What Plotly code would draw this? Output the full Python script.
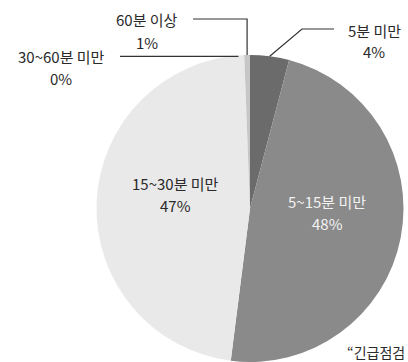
import math
import plotly.graph_objects as go

# Data
labels = ["5분 미만", "5~15분 미만", "15~30분 미만", "30~60분 미만", "60분 이상"]
values = [4.1, 47.9, 47.4, 0.0, 0.6]
pct_text = ["4%", "48%", "47%", "0%", "1%"]
colors = ["#6b6b6b", "#8a8a8a", "#e9e9e9", "#d0d0d0", "#c6c6c6"]
label_colors = ["#2a2a2a", "#f2f2f2", "#2a2a2a", "#2a2a2a", "#2a2a2a"]

W, H = 408, 362
FONT = "Noto Sans CJK KR"
FS = 15
LS = 22  # line spacing between the label and its percentage

# pie geometry (pixel)
dom_x = [95 / W, 405 / W]
dom_y = [0.0, 1 - 55 / H]
dw = (dom_x[1] - dom_x[0]) * W
dh = (dom_y[1] - dom_y[0]) * H
R = min(dw, dh) / 2
CX = (dom_x[0] + dom_x[1]) / 2 * W
CY = (1 - (dom_y[0] + dom_y[1]) / 2) * H

total = sum(values)
cum = 0
mids = []
for v in values:
    mids.append((cum + v / 2) / total)
    cum += v


def edge_point(frac, rr=R):
    a = 2 * math.pi * frac
    return CX + rr * math.sin(a), CY - rr * math.cos(a)


def px(x):
    return x / W


def py(y):
    return 1 - y / H


fig = go.Figure()
fig.add_trace(go.Pie(
    labels=labels,
    values=values,
    textinfo="none",
    marker=dict(colors=colors, line=dict(width=0)),
    sort=False,
    direction="clockwise",
    rotation=0,
    domain=dict(x=dom_x, y=dom_y),
    showlegend=False,
    hoverinfo="skip",
))

shapes = []
annotations = []
line_style = dict(color="#333333", width=1.2)


def add_label(i, cx, cy):
    """two-line label centred at pixel (cx, cy)"""
    for txt, dy in ((labels[i], -LS / 2), (pct_text[i], LS / 2)):
        annotations.append(dict(x=px(cx), y=py(cy + dy), text=txt,
                                xref="paper", yref="paper", showarrow=False,
                                xanchor="center", yanchor="middle",
                                font=dict(family=FONT, size=FS, color=label_colors[i])))


# inside labels for the two large slices
for i in (1, 2):
    lx, ly = edge_point(mids[i], 0.5 * R)
    add_label(i, lx + 2, ly - 11)

# 5분 미만
ex, ey = edge_point(mids[0])
shapes.append(dict(type="path", xref="paper", yref="paper",
                   path=f"M {px(ex)} {py(ey)} L {px(302)} {py(29)} L {px(334)} {py(29)}",
                   line=line_style))
add_label(0, 374, 41)

# 60분 이상
ex, ey = edge_point(mids[4])
shapes.append(dict(type="path", xref="paper", yref="paper",
                   path=f"M {px(193)} {py(19)} L {px(ex)} {py(19)} L {px(ex)} {py(ey)}",
                   line=line_style))
add_label(4, 147, 31)

# 30~60분 미만
ex, ey = edge_point(mids[3] - 0.006)
shapes.append(dict(type="path", xref="paper", yref="paper",
                   path=f"M {px(120)} {py(ey + 1)} L {px(ex)} {py(ey + 1)}",
                   line=line_style))
add_label(3, 61, 67)

annotations.append(dict(x=px(345), y=py(352), xref="paper", yref="paper", showarrow=False,
                        xanchor="left", yanchor="middle", text="“긴급점검",
                        font=dict(family=FONT, size=14, color="#2a2a2a")))

fig.update_layout(
    width=W, height=H,
    margin=dict(l=0, r=0, t=0, b=0),
    paper_bgcolor="white",
    plot_bgcolor="white",
    shapes=shapes,
    annotations=annotations,
)

fig.write_html("out.html")
